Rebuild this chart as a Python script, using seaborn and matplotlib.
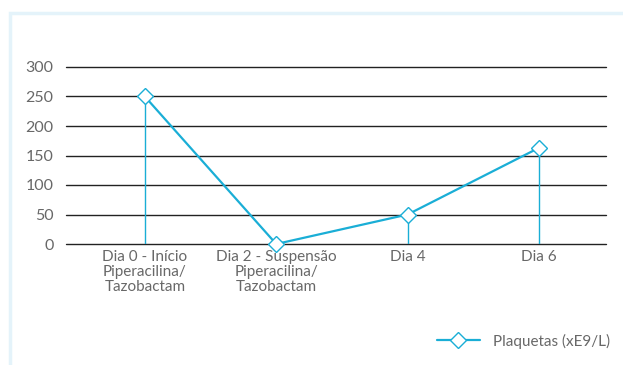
import matplotlib
matplotlib.use("Agg")
import matplotlib.pyplot as plt
import seaborn as sns
import pandas as pd
from matplotlib.patches import Rectangle
from matplotlib.lines import Line2D

# dados
dias = ["Dia 0 - Início\nPiperacilina/\nTazobactam",
        "Dia 2 - Suspensão\nPiperacilina/\nTazobactam",
        "Dia 4",
        "Dia 6"]
plaquetas = [250, 0, 50, 163]
yticks = [0, 50, 100, 150, 200, 250, 300]

cor = "#1aaed6"
cinza = "#686868"

sns.set_style("white")
plt.rcParams["font.family"] = ["Lato", "DejaVu Sans"]

df = pd.DataFrame({"x": range(len(dias)), "y": plaquetas})

fig = plt.figure(figsize=(6.23, 3.65), dpi=100)
ax = fig.add_axes([66 / 623, 1 - 244 / 365, 540 / 623, 177 / 365])

# moldura azul clara
fig.patches.append(Rectangle((10 / 623, -0.1), 1.2, 1 - 13 / 365 + 0.1,
                             transform=fig.transFigure, fill=False,
                             edgecolor="#e4f3fa", linewidth=2.5, zorder=0))

for v in yticks:
    ax.axhline(v, color="#222222", linewidth=1, zorder=1, clip_on=False)

ax.vlines(df["x"], 0, df["y"], color=cor, linewidth=1, zorder=2)
sns.lineplot(data=df, x="x", y="y", ax=ax, color=cor, linewidth=1.6,
             marker="D", markersize=8, markerfacecolor="white",
             markeredgecolor=cor, markeredgewidth=1.0, zorder=3, clip_on=False)

ax.set_xlim(-0.6, 3.51)
ax.set_ylim(0, 300)
ax.set_yticks(yticks)
ax.set_xticks(range(len(dias)))
ax.set_xticklabels(dias, color=cinza, fontsize=11, linespacing=1.1)
ax.set_yticklabels([str(v) for v in yticks], color=cinza, fontsize=11.5)
ax.tick_params(axis="both", length=0, pad=4)
ax.tick_params(axis="y", pad=9)
ax.set_xlabel("")
ax.set_ylabel("")
for s in ax.spines.values():
    s.set_visible(False)

h = Line2D([], [], color=cor, linewidth=1.6, marker="D", markersize=8,
           markerfacecolor="white", markeredgecolor=cor, markeredgewidth=1.0)
fig.legend([h], ["Plaquetas (xE9/L)"], loc="center left",
           bbox_to_anchor=(423 / 623, 1 - 341 / 365), frameon=False,
           labelcolor=cinza, handlelength=2.8, handletextpad=0.9,
           prop={"size": 11})

fig.savefig("out.png", dpi=100)
